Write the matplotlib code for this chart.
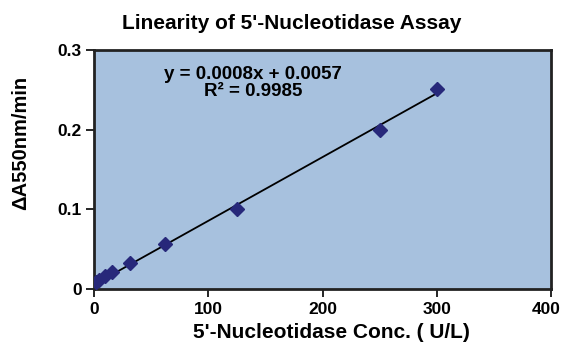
import matplotlib
matplotlib.use("Agg")
import matplotlib.pyplot as plt
import matplotlib.transforms as mtransforms
import numpy as np

plt.rcParams["font.family"] = ["Liberation Sans", "DejaVu Sans"]
plt.rcParams["font.weight"] = "bold"

conc = [1.5, 4.7, 9.4, 15.6, 31.25, 62.5, 125, 250, 300]
rate = [0.009, 0.012, 0.016, 0.021, 0.033, 0.057, 0.100, 0.200, 0.251]
slope, intercept = 0.0008, 0.0057

fig = plt.figure(figsize=(5.63, 3.45), dpi=100)
ax = fig.add_axes([0.167, 0.162, 0.812, 0.693])
ax.set_facecolor("#a7c1de")

xl = np.array([min(conc), max(conc)])
ax.plot(xl, slope * xl + intercept, color="black", lw=1.3, zorder=2)
ax.plot(conc, rate, ls="none", marker="D", ms=7.5, color="#27287a",
        mec="#27287a", zorder=3)

ax.set_xlim(0, 400)
ax.set_ylim(0, 0.3)
ax.set_xticks([0, 100, 200, 300, 400])
ax.set_yticks([0, 0.1, 0.2, 0.3])
ax.set_yticklabels(["0", "0.1", "0.2", "0.3"])
for s in ax.spines.values():
    s.set_linewidth(2)
    s.set_color("#222222")
ax.tick_params(length=6, width=1.2, labelsize=12.5, pad=3)

# last x tick label sits against the right edge; nudge it in a little
last = ax.get_xticklabels()[-1]
last.set_transform(last.get_transform() +
                   mtransforms.ScaledTranslation(-5 / 100, 0, fig.dpi_scale_trans))

fig.text(0.518, 0.933, "Linearity of 5'-Nucleotidase Assay", fontsize=15,
         fontweight="bold", ha="center", va="center")
ax.set_xlabel("5'-Nucleotidase Conc. ( U/L)", fontsize=15, fontweight="bold")
ax.xaxis.set_label_coords(0.52, -0.14)
ax.set_ylabel("\u0394A550nm/min", fontsize=14.5, fontweight="bold")
ax.yaxis.set_label_coords(-0.14, 0.61)

ax.text(139, 0.259, "y = 0.0008x + 0.0057\nR\u00b2 = 0.9985", ha="center",
        va="center", fontsize=13.5, fontweight="bold", linespacing=1.0)

fig.savefig("out.png", dpi=100)
